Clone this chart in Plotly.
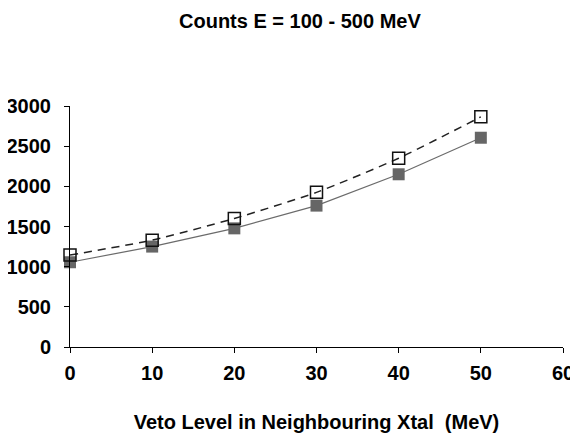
import plotly.graph_objects as go

veto_level = [0, 10, 20, 30, 40, 50]
counts_open = [1145, 1330, 1600, 1925, 2350, 2865]
counts_filled = [1055, 1250, 1477, 1760, 2150, 2605]

x_ticks = [0, 10, 20, 30, 40, 50, 60]
y_ticks = [0, 500, 1000, 1500, 2000, 2500, 3000]

font_family = "Liberation Sans, Arial, sans-serif"

fig = go.Figure()
fig.add_trace(go.Scatter(
    x=veto_level, y=counts_filled, mode="lines+markers",
    line=dict(color="#6b6b6b", width=1.2),
    marker=dict(symbol="square", size=12, color="#666666", line=dict(width=0)),
    showlegend=False, cliponaxis=False,
))
fig.add_trace(go.Scatter(
    x=veto_level, y=counts_open, mode="lines+markers",
    line=dict(color="#222222", width=1.5, dash="8px,6px", shape="spline", smoothing=0.6),
    marker=dict(symbol="square-open", size=12, color="#111111", line=dict(width=1.5)),
    showlegend=False, cliponaxis=False,
))

fig.update_layout(
    width=578, height=437,
    margin=dict(l=62, r=23, t=98, b=98),
    paper_bgcolor="white", plot_bgcolor="white",
    font=dict(family=font_family, size=20, color="black"),
    title=dict(text="<b>Counts E = 100 - 500 MeV</b>", x=0.505, xanchor="center",
               y=1 - 13 / 437, yanchor="middle", font=dict(size=20)),
)
fig.update_xaxes(
    range=[0, 60], tickvals=x_ticks, ticktext=[f"<b>{v}</b>" for v in x_ticks],
    showgrid=False, zeroline=False, showline=True, linecolor="black", linewidth=1,
    ticks="outside", ticklen=5, tickcolor="black", ticklabelstandoff=3,
    automargin=False,
    title=dict(text="<b>Veto Level in Neighbouring Xtal  (MeV)</b>", standoff=31, font=dict(size=20)),
)
fig.update_yaxes(
    range=[0, 3000], tickvals=y_ticks, ticktext=[f"<b>{v}</b>" for v in y_ticks],
    showgrid=False, zeroline=False, showline=True, linecolor="black", linewidth=1,
    ticks="outside", ticklen=5, tickcolor="black", ticklabelstandoff=9,
    automargin=False,
)

fig.write_html("out.html")
